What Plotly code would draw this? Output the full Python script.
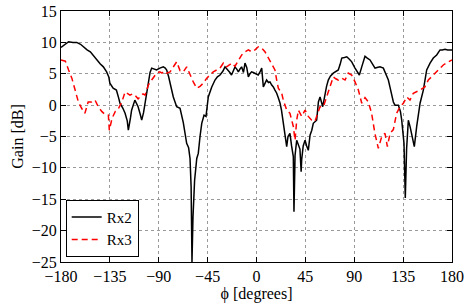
import plotly.graph_objects as go

rx2_phi = [-180, -176, -173, -169, -165.5, -162, -159.5, -156, -153, -150, -147, -144, -141, -138, -136, -135,
           -132, -129, -127, -125.7, -123, -121, -119, -118, -116, -115, -112, -109, -107, -105.7, -104, -102.6,
           -101, -99.6, -98, -96.5, -94, -92, -89, -85.8, -84, -82.7, -81, -79.6, -78, -76.6, -73.5, -70.4,
           -67.4, -65.5, -64.3, -62.5, -61.2, -60.2, -59.4, -58.5, -57, -55, -53.6, -52, -50.4, -48.3, -46.5,
           -44.4, -41.2, -38.2, -36, -33.6, -31, -29, -27.5, -26, -24.5, -23, -21.5, -19.8, -18, -16.7, -15,
           -13.7, -12, -10.6, -9, -7.5, -6, -4.5, -3, -1.4, 0, 1.6, 3, 4.8, 6.3, 8, 9.3, 11, 12.4, 14, 15.5,
           17, 18.6, 20, 21.7, 23, 24.7, 26, 27.8, 29, 30.8, 32.3, 33.9, 34.5, 35.5, 37, 38.5, 40, 41.1, 41.6,
           43, 44.7, 46.2, 47.7, 49.3, 50.9, 52.3, 54, 55.4, 57, 58.5, 61, 63.1, 64.5, 66.1, 68, 70.7, 73, 75.3,
           77, 78.5, 81, 83.1, 85.5, 87.7, 90.7, 93, 94.7, 96.9, 99.9, 102, 104.5, 107, 109.1, 111, 113.7,
           116.8, 119, 121.4, 123, 124.5, 126, 127.5, 130.6, 132.5, 133.7, 135.8, 137, 138.2, 139.8, 141.5,
           142.9, 145.3, 147.5, 149, 150.6, 153.6, 155, 156.7, 159.8, 162.8, 165.9, 169, 171, 173.6, 176,
           178.2, 180]
rx2_gain = [9.2, 9.8, 10.1, 10.0, 10.0, 9.7, 9.3, 8.8, 8.5, 7.8, 7.2, 6.6, 6.1, 5.3, 4.5, 3.5,
            2.7, 2.4, 1.2, 0.3, -0.5, -1.3, -2.5, -4.0, -2.0, -0.8, 0.8, -0.25, -1.5, -2.4, -1.2, 0.3,
            2.2, 4.0, 5.2, 5.9, 5.8, 5.6, 5.9, 6.1, 5.9, 5.6, 4.6, 3.5, 2.3, 1.3, -0.25, -0.5,
            -2.8, -4.5, -6.1, -6.8, -8.5, -13, -25, -18, -12, -8.5, -7.7, -5, -2.9, -1.6, -1.8,
            1.3, 2.9, 4.0, 4.5, 4.8, 5.4, 6.1, 5.8, 5.6, 5.2, 4.8, 5.5, 6.1, 5.7, 5.3, 5.8,
            6.1, 5.2, 6.7, 6.0, 4.5, 5.0, 5.3, 5.2, 5.1, 4.9, 4.8, 5.2, 5.9, 2.9, 3.6, 4.0, 3.6, 3.7, 3.2, 2.9,
            2.4, 1.9, 1.2, 0.3, -0.8, -2.9, -4.5, -6.6, -5.0, -4.5, -6.5, -8.2, -17, -8, -5.6, -6.5, -7, -10.6, -8.7,
            -6.5, -5.6, -6.5, -7.2, -4.8, -4.0, -2.9, -2.7, -2.4, 0.5, 1.3, -0.25, 1.9, 3.0, 4.0, 4.6, 5.1, 5.4, 5.6,
            6.5, 7.5, 7.6, 7.7, 7.3, 6.9, 5.9, 5.2, 4.8, 6.1, 7.8, 7.5, 7.2, 6.5, 5.9, 6.0, 6.1,
            5.9, 5.0, 4.0, 2.8, 1.3, 0.5, 0.0, 0.0, -1.0, -2.4, -6.1, -14.8, -7, -2.4, -3.5,
            -4.5, -6.6, -3.4, -1.5, 0.3, 2.4, 4.0, 5.6, 6.7, 7.5, 8.0, 8.8, 8.8, 8.9, 8.8,
            8.8, 8.8]

rx3_phi = [-180, -176, -173, -170, -167, -164, -161, -158, -155, -151.7, -148.7, -145.7, -142.5, -139.5,
           -136.4, -135.5, -133, -130, -127, -124, -121, -118.5, -116.5, -114, -112, -109, -107, -104.5,
           -102.6, -99.6, -96.5, -94, -92, -89, -87, -85, -82.7, -79.6, -76.6, -73.5, -70.4, -67.4, -64.3,
           -61.2, -58.2, -55, -52, -49, -45.8, -42.8, -39.8, -36.7, -33.6, -30.5, -27.5, -25, -22.8, -19.8,
           -16.7, -13.6, -10.6, -7.5, -4.5, -1.4, 1.7, 4.8, 7.8, 10.9, 14, 17, 18.6, 20.1, 23.2, 24.7, 27.8,
           30.8, 33.9, 35.5, 37, 38.6, 41.6, 44.7, 47.7, 50.8, 53.8, 56.9, 58.5, 61.6, 64.6, 67.7, 70.7, 73,
           75.3, 78.5, 81.5, 84.5, 87.6, 90.7, 93.8, 96.9, 99.9, 103, 106, 109, 112.2, 115.3, 118.3, 120.5,
           123, 126, 129, 132.2, 135.2, 138.3, 141.3, 144.4, 147.5, 150.5, 155, 158.2, 162.8, 167.4, 172,
           176.6, 180]
rx3_gain = [7.2, 7.0, 5.6, 4.3, 2.4, 0.5, -0.5, -1.3, 0.5, 0.5, 0.8, -0.25, -1.0, -1.5,
            -1.6, -4.0, -2.1, -1.0, -0.5, 0.5, 2.1, 1.8, 1.6, 1.8, 1.6, 1.0, 1.3, 1.8,
            1.6, 3.2, 4.0, 4.6, 5.1, 5.3, 5.1, 5.4, 5.1, 5.3, 6.1, 6.9, 5.5, 5.3, 6.1,
            4.8, 3.7, 2.7, 3.0, 3.5, 4.3, 4.8, 5.3, 5.6, 5.9, 6.7, 6.1, 6.4, 6.7, 6.2,
            7.2, 8.0, 8.5, 8.8, 8.5, 8.8, 9.3, 9.1, 8.5, 7.5, 6.7, 5.6, 4.0, 2.7, 1.9, 0.8, -0.8,
            -1.3, -3.4, -5.6, -2.4, -0.8, -1.8, -0.8, -1.8, -2.4, -2.6, -0.8, -0.25, -0.25, 1.3, 2.7, 4.5, 4.2,
            4.0, 4.3, 4.0, 5.1, 4.8, 3.7, 2.4, 0.3, 1.2, 0.5, -1.3, -4.5, -6.9, -5.0, -4.5, -6.6,
            -4.5, -3.9, -1.3, -0.25, 0.3, 1.3, 0.8, 1.9, 2.1, 2.4, 2.9, 4.0, 4.8, 5.6, 6.4,
            6.9, 7.2]

x_ticks = [-180, -135, -90, -45, 0, 45, 90, 135, 180]
y_ticks = [-25, -20, -15, -10, -5, 0, 5, 10, 15]

SERIF = "Liberation Serif"

fig = go.Figure()
fig.add_trace(go.Scatter(x=rx2_phi, y=rx2_gain, mode="lines", name="Rx2",
                         line=dict(color="black", width=1.5)))
fig.add_trace(go.Scatter(x=rx3_phi, y=rx3_gain, mode="lines", name="Rx3",
                         line=dict(color="red", width=1.5, dash="6px,4px")))

axis_common = dict(showline=True, linecolor="black", linewidth=1, mirror="ticks",
                   ticks="inside", ticklen=5, tickcolor="black", automargin=False,
                   showgrid=True, gridcolor="#9a9a9a", griddash="dot", gridwidth=1,
                   zeroline=False, tickfont=dict(family=SERIF, size=16, color="black"))

fig.update_xaxes(range=[-180, 180], tickvals=x_ticks,
                 title=dict(text="ϕ [degrees]", font=dict(family=SERIF, size=16, color="black"), standoff=2),
                 **axis_common)
fig.update_yaxes(range=[-25, 15], tickvals=y_ticks,
                 title=dict(text="Gain [dB]", font=dict(family=SERIF, size=16, color="black"), standoff=4),
                 **axis_common)

fig.update_layout(
    width=465, height=307,
    margin=dict(l=61, r=13, t=11, b=45, autoexpand=False),
    paper_bgcolor="white", plot_bgcolor="white",
    font=dict(family=SERIF, size=16, color="black"),
    legend=dict(x=0.012, y=0.021, xanchor="left", yanchor="bottom",
                bordercolor="black", borderwidth=1, bgcolor="white",
                font=dict(family=SERIF, size=15, color="black"), tracegroupgap=0,
                itemwidth=30),
    showlegend=True,
)

fig.write_html("out.html", config={"displayModeBar": False},
               post_script="document.body.style.margin='0';document.body.style.overflow='hidden';")
